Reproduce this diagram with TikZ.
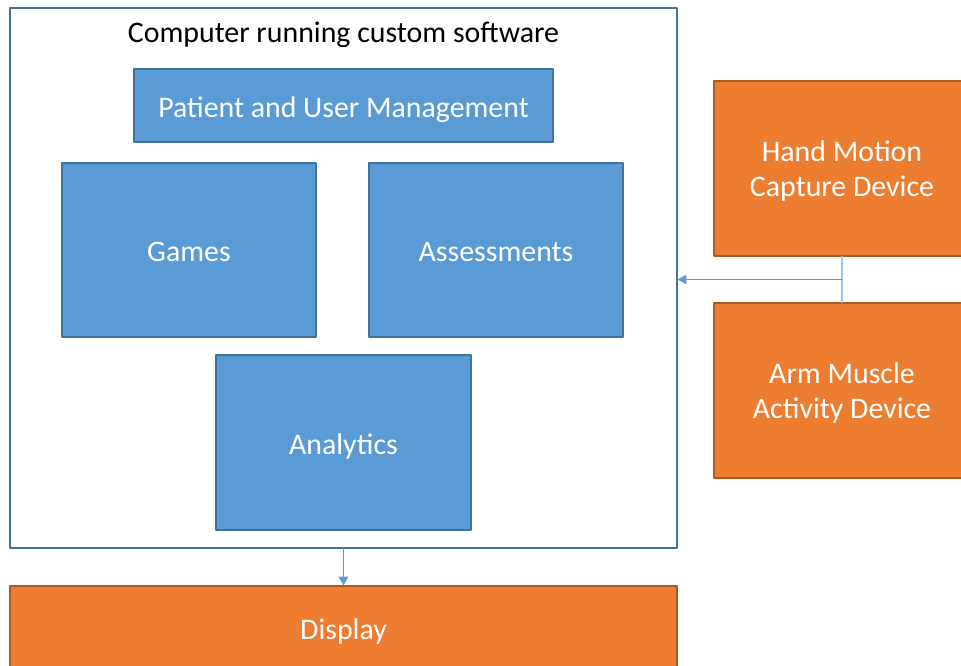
\documentclass[tikz,border=0pt]{standalone}
\usepackage{fontspec}
\setmainfont{Carlito}
\usetikzlibrary{arrows.meta}
\usetikzlibrary{calc, positioning}
\definecolor{boxblue}{HTML}{5B9BD5}
\definecolor{edgeblue}{HTML}{41719C}
\definecolor{boxorange}{HTML}{ED7D31}
\definecolor{edgeorange}{HTML}{AE5A21}

\tikzset{
  swbox/.style={draw=edgeblue, line width=0.6pt, fill=boxblue, text=white, font=\fontsize{17}{20.4}\selectfont, align=center, inner sep=0pt, text height=14.6pt, text depth=1pt},
  devbox/.style={draw=edgeorange, line width=0.6pt, fill=boxorange, text=white, font=\fontsize{17}{20.4}\selectfont, align=center, inner sep=0pt, text height=14.6pt, text depth=1pt},
  tworow/.style={text height=35.3pt, text depth=3pt},
  link/.style={draw=boxblue, line width=0.6pt, -{Triangle[length=5pt,width=5.5pt]}}
}

\begin{document}
\begin{tikzpicture}[line cap=round,line join=round,x=0.02cm,y=-0.02cm]
\useasboundingbox (0,0) rectangle (961,666);
\clip (0,0) rectangle (961,666);
% Rechner mit Software
\node[draw=edgeblue, line width=0.8pt, fill=white, minimum width=667*0.02cm, minimum height=540*0.02cm] (computer) at (343.5,278) {};
\node[font=\fontsize{17}{20.4}\selectfont] (title) at (343.5,35) {Computer running custom software};

% Module
\node[swbox, minimum width=419*0.02cm, minimum height=73*0.02cm] (patient) at (343.5,105.5) {Patient and User Management};
\node[swbox, minimum width=254*0.02cm, minimum height=174*0.02cm] (games) at (189,250) {Games};
\node[swbox, minimum width=254*0.02cm, minimum height=174*0.02cm] (assess) at (496,250) {Assessments};
\node[swbox, minimum width=255*0.02cm, minimum height=175*0.02cm] (analytics) at (343.5,442.5) {Analytics};

% Geraete
\node[devbox, tworow, minimum width=256*0.02cm, minimum height=175*0.02cm] (hand) at (842,168.5) {Hand Motion\\Capture Device};
\node[devbox, tworow, minimum width=256*0.02cm, minimum height=175*0.02cm] (arm) at (842,390.5) {Arm Muscle\\Activity Device};
\node[devbox, minimum width=667*0.02cm, minimum height=84*0.02cm] (display) at (343.5,628) {Display};

% Verbindungen
\coordinate (junction) at ($(hand.south)!0.5!(arm.north)$);
\draw[draw=boxblue!60, line width=0.6pt] (hand.south) -- (arm.north);
\draw[link] (junction) -- (junction -| computer.east);
\draw[link] (computer.south) -- (display.north);
\end{tikzpicture}
\end{document}
